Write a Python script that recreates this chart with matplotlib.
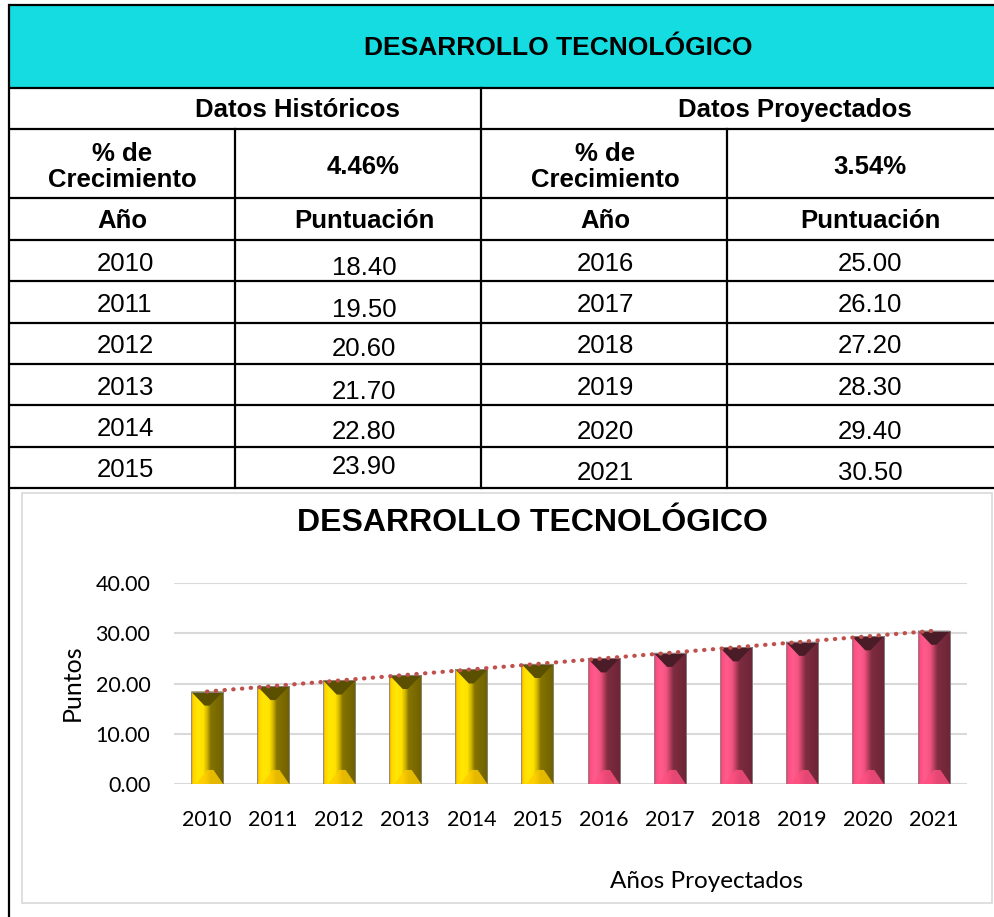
import matplotlib.pyplot as plt
import numpy as np
from matplotlib.colors import LinearSegmentedColormap
from matplotlib.patches import Rectangle, Polygon

# data
hist_years = ['2010', '2011', '2012', '2013', '2014', '2015']
hist_values = [18.40, 19.50, 20.60, 21.70, 22.80, 23.90]
proj_years = ['2016', '2017', '2018', '2019', '2020', '2021']
proj_values = [25.00, 26.10, 27.20, 28.30, 29.40, 30.50]
hist_growth = '4.46%'
proj_growth = '3.54%'
title = 'DESARROLLO TECNOLÓGICO'

W, H = 995, 917
fig = plt.figure(figsize=(W / 100, H / 100), dpi=100)

# ---- table drawn in pixel coordinates ----
tab = fig.add_axes([0, 0, 1, 1])
tab.set_xlim(0, W)
tab.set_ylim(H, 0)
tab.axis('off')

tfont = 'Liberation Sans'
fs = 18.5
teal = '#14dce0'
tab.add_patch(Rectangle((9, 5), 1200, 83, facecolor=teal, edgecolor='none'))

row_lines = [5, 88, 129, 198, 240, 281.3, 322.7, 364, 405.3, 446.7, 488]
for y in row_lines:
    tab.plot([9, 1200], [y, y], color='black', lw=1.6, solid_capstyle='butt')
tab.plot([9, 9], [5, H + 5], color='black', lw=1.6)
tab.plot([235, 235], [129, 488], color='black', lw=1.6)
tab.plot([481, 481], [88, 488], color='black', lw=1.6)
tab.plot([727, 727], [129, 488], color='black', lw=1.6)

tab.text(558, 48, title, ha='center', va='center', fontsize=19, fontweight='bold', family=tfont)
tab.text(297, 110, 'Datos Históricos', ha='center', va='center', fontsize=fs, fontweight='bold', family=tfont)
tab.text(795, 110, 'Datos Proyectados', ha='center', va='center', fontsize=fs, fontweight='bold', family=tfont)
for xc in [122, 605]:
    tab.text(xc, 167, '% de\nCrecimiento', ha='center', va='center', fontsize=fs,
             fontweight='bold', family=tfont, linespacing=1.15)
for xc, g in [(363, hist_growth), (870, proj_growth)]:
    tab.text(xc, 167, g, ha='center', va='center', fontsize=fs, fontweight='bold', family=tfont)
for xc, s in [(122, 'Año'), (364, 'Puntuación'), (605, 'Año'), (870, 'Puntuación')]:
    tab.text(xc, 221, s, ha='center', va='center', fontsize=fs, fontweight='bold', family=tfont)

# cell text sits a bit low in some cells (as in the sheet)
left_val_off = [7, 8, 6, 7, 6, 0]
right_off = [3, 3, 3, 3, 6, 6]
for i in range(6):
    yc = (row_lines[4 + i] + row_lines[5 + i]) / 2
    tab.text(125, yc + 3, hist_years[i], ha='center', va='center', fontsize=fs, family=tfont)
    tab.text(364, yc + left_val_off[i], f'{hist_values[i]:.2f}', ha='center', va='center', fontsize=fs, family=tfont)
    tab.text(605, yc + right_off[i], proj_years[i], ha='center', va='center', fontsize=fs, family=tfont)
    tab.text(870, yc + right_off[i], f'{proj_values[i]:.2f}', ha='center', va='center', fontsize=fs, family=tfont)

# chart box
tab.add_patch(Rectangle((22, 493), 970, 410, facecolor='white', edgecolor='#d9d9d9', lw=1.2))
tab.text(532, 523, title, ha='center', va='center', fontsize=23, fontweight='bold', family=tfont)

# ---- chart ----
cfont = 'Lato'
ax = fig.add_axes([174 / W, 1 - 784 / H, (967 - 174) / W, 201 / H])
years = hist_years + proj_years
values = hist_values + proj_values
x = np.arange(len(years))

ax.set_yticks([0, 10, 20, 30, 40])
ax.set_yticklabels([f'{v:.2f}' for v in [0, 10, 20, 30, 40]], fontsize=15.5, family=cfont)
ax.set_xticks(x)
ax.set_xticklabels(years, fontsize=15.5, family=cfont)
ax.tick_params(length=0)
ax.tick_params(axis='y', pad=17)
ax.tick_params(axis='x', pad=19)
for s in ax.spines.values():
    s.set_visible(False)
ax.grid(axis='y', color='#d9d9d9', lw=1.5)
ax.set_axisbelow(True)
ax.set_facecolor('none')

yel_cmap = LinearSegmentedColormap.from_list('yel', [
    (0, '#e39c00'), (0.07, '#ffd400'), (0.2, '#ffe800'), (0.38, '#ffe000'),
    (0.5, '#c9b000'), (0.6, '#857400'), (1, '#6e6000')])
pink_cmap = LinearSegmentedColormap.from_list('pink', [
    (0, '#d8406a'), (0.07, '#ff4f82'), (0.22, '#ff5c8e'), (0.38, '#f0527f'),
    (0.5, '#b03b5b'), (0.6, '#7e2c40'), (1, '#6c2536')])

bars = ax.bar(x, values, width=0.485, color='none', edgecolor='none', zorder=2)
grad = np.linspace(0, 1, 128).reshape(1, -1)
d = 2.8  # bevel depth (data units)
for i, b in enumerate(bars):
    x0, w, h = b.get_x(), b.get_width(), b.get_height()
    x1 = x0 + w
    hist = i < len(hist_years)
    cmap = yel_cmap if hist else pink_cmap
    im = ax.imshow(grad, cmap=cmap, extent=[x0, x1, 0, h], aspect='auto', zorder=2)
    im.set_clip_path(b)
    top_c = '#5a5000' if hist else '#4a1c28'
    bot_c = '#ffcc00' if hist else '#ff4f80'
    ax.add_patch(Polygon([(x0, h), (x1, h), (x1 - 0.42 * w, h - d), (x0 + 0.42 * w, h - d)],
                         closed=True, facecolor=top_c, edgecolor='none', zorder=3))
    ax.add_patch(Polygon([(x0 + 0.5 * w, d), (x1 - 0.3 * w, d), (x1, 0), (x0 + 0.15 * w, 0)],
                         closed=True, facecolor=bot_c, edgecolor='none', zorder=3, alpha=0.8))
ax.bar(x, values, width=0.485, fill=False, edgecolor='#8a8a8a', lw=0.6, zorder=4)

# linear trendline
k, c = np.polyfit(x, values, 1)
ax.plot(x, k * x + c, color='#c0504d', lw=3, linestyle=(0, (0.1, 2)),
        dash_capstyle='round', zorder=5)

ax.set_xlim(-0.5, len(years) - 0.5)
ax.set_ylim(0, 40)

fig.text(72 / W, 1 - 683 / H, 'Puntos', rotation=90, ha='center', va='center', fontsize=18, family=cfont)
fig.text(707 / W, 1 - 882 / H, 'Años Proyectados', ha='center', va='center', fontsize=17.5, family=cfont)

plt.savefig('out.png', dpi=100)
